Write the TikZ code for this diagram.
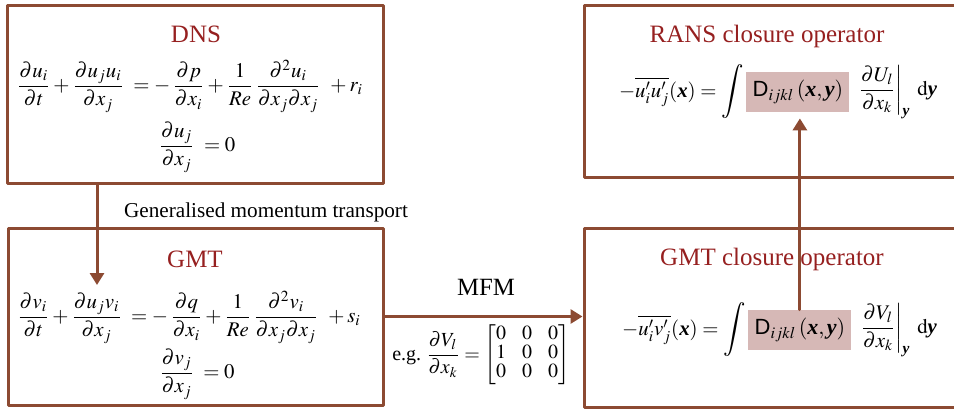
\documentclass[tikz,border=0pt]{standalone}
\usepackage{amsmath}
\usepackage{mathptmx}
\usepackage{fontspec}
\setmainfont{Liberation Serif}
\newfontfamily\arialfont{Liberation Sans}
\usetikzlibrary{positioning,arrows.meta}
\definecolor{boxbrown}{RGB}{140,74,50}
\definecolor{titlered}{RGB}{150,32,32}
\definecolor{kernshade}{RGB}{214,184,182}
\newcommand\bvec[1]{\text{\bfseries\itshape #1}}
\newcommand\kernD{\text{\arialfont D}_{ijkl}\,(\bvec{x},\bvec{y})}
\newcommand\bigint{\vcenter{\hbox{\scalebox{1.2}[1.3]{$\displaystyle\int$}}}}
\begin{document}
\begin{tikzpicture}[x=0.5pt,y=-0.5pt,line cap=round,line join=round,
  box/.style={draw=boxbrown,line width=1.5pt,rectangle,inner sep=0pt},
  boxtitle/.style={text=titlered,font=\fontsize{12.5}{15}\selectfont,anchor=base},
  eqn/.style={font=\fontsize{10.4}{13}\selectfont,inner sep=0pt},
  kernel/.style={fill=kernshade,minimum width=51.5pt,minimum height=20pt,inner sep=0pt,font=\fontsize{11}{13}\selectfont},
  flow/.style={draw=boxbrown,line width=1.5pt,-{Triangle[width=7pt,length=6pt]}}]
\useasboundingbox (0,0) rectangle (954,409);
% boxes
\node[box,minimum width=188pt,minimum height=89pt] (dns) at (195,94) {};
\node[box,minimum width=187.5pt,minimum height=88.5pt] (gmt) at (195.5,316.5) {};
\node[box,minimum width=186.5pt,minimum height=86pt] (rans) at (770.5,91) {};
\node[box,minimum width=186.5pt,minimum height=89.5pt] (gmc) at (770.5,317.5) {};
% titles
\node[boxtitle] (dnsT) at (196,42) {DNS};
\node[boxtitle] (gmtT) at (195,267) {GMT};
\node[boxtitle] (ransT) at (767,42) {RANS closure operator};
\node[boxtitle] (gmcT) at (772,265) {GMT closure operator};
% DNS
\node[eqn] (dnsEq) at (190,86) {$\displaystyle \frac{\partial u_i}{\partial t}+\frac{\partial u_ju_i}{\partial x_j}\;=-\,\frac{\partial p}{\partial x_i}+\frac{1}{\mathit{Re}}\,\frac{\partial^2u_i}{\partial x_j\partial x_j}\;\,+r_i$};
\node[eqn] (dnsDiv) at (197,147) {$\displaystyle \frac{\partial u_j}{\partial x_j}\;=0$};
% GMT
\node[eqn] (gmtEq) at (189,317) {$\displaystyle \frac{\partial v_i}{\partial t}+\frac{\partial u_jv_i}{\partial x_j}\;=-\,\frac{\partial q}{\partial x_i}+\frac{1}{\mathit{Re}}\,\frac{\partial^2v_i}{\partial x_j\partial x_j}\;\,+s_i$};
\node[eqn] (gmtDiv) at (197,374) {$\displaystyle \frac{\partial v_j}{\partial x_j}\;=0$};
% RANS closure
\node[eqn,anchor=east] (ransL) at (744,92) {$\displaystyle -\overline{u'_iu'_j}(\bvec{x})=\bigint$};
\node[kernel,right=1pt of ransL] (ransD) {$\kernD$};
\node[eqn,right=3pt of ransD] (ransR) {$\displaystyle \left.\frac{\partial U_l}{\partial x_k}\right|_{\bvec{y}}\;\mathrm{d}\bvec{y}$};
% GMT closure
\node[eqn,anchor=east] (gmcL) at (746,330) {$\displaystyle -\overline{u'_iv'_j}(\bvec{x})=\bigint$};
\node[kernel,right=1pt of gmcL] (gmcD) {$\kernD$};
\node[eqn,right=3pt of gmcD] (gmcR) {$\displaystyle \left.\frac{\partial V_l}{\partial x_k}\right|_{\bvec{y}}\;\mathrm{d}\bvec{y}$};
% connectors
\coordinate (gmtIn) at (97,285);
\draw[flow] (dns.south -| gmtIn) -- (gmtIn);
\node[anchor=base,font=\fontsize{10.6}{13}\selectfont] (gmtLbl) at (266,217) {Generalised momentum transport};
\draw[flow] (gmt.east) -- (gmt.east -| gmc.west);
\node[anchor=base,font=\fontsize{12.4}{15}\selectfont] (mfmLbl) at (486,295) {MFM};
\node[font=\fontsize{10}{9.5}\selectfont,inner sep=0pt] (mfmEx) at (481,355) {e.g.\ $\displaystyle\frac{\partial V_l}{\partial x_k}=\setlength\arraycolsep{4pt}\begin{bmatrix}0&0&0\\1&0&0\\0&0&0\end{bmatrix}$};
\draw[flow,shorten >=3pt] (gmcD.north) -- (gmcD.north |- ransD.south);
\end{tikzpicture}
\end{document}
